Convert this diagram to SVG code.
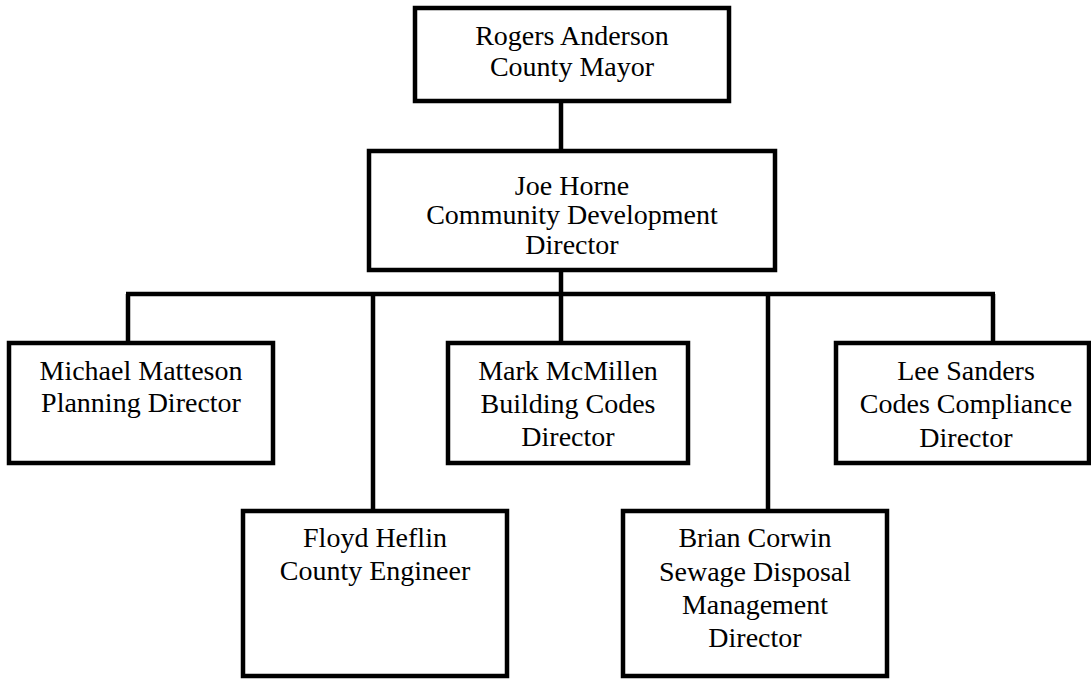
<svg xmlns="http://www.w3.org/2000/svg" width="1091" height="679" viewBox="0 0 1091 679">
<style>
.box{fill:#fff;stroke:#000;stroke-width:4.5}
.ln{stroke:#000;stroke-width:4.5;fill:none}
text{font-family:"Liberation Serif","Times New Roman",serif;font-size:28px;fill:#000;text-anchor:middle}
</style>
<rect width="1091" height="679" fill="#fff"/>
<g id="connectors">
<line class="ln" x1="561" y1="101" x2="561" y2="151"/>
<line class="ln" x1="561" y1="270" x2="561" y2="294"/>
<line class="ln" x1="126" y1="294" x2="995" y2="294"/>
<line class="ln" x1="128" y1="294" x2="128" y2="343"/>
<line class="ln" x1="373" y1="294" x2="373" y2="511"/>
<line class="ln" x1="561" y1="294" x2="561" y2="343"/>
<line class="ln" x1="768" y1="294" x2="768" y2="511"/>
<line class="ln" x1="993" y1="294" x2="993" y2="343"/>
</g>
<g id="mayor">
<rect class="box" x="415" y="8" width="314" height="93"/>
<text x="572" y="45">Rogers Anderson</text>
<text x="572" y="76">County Mayor</text>
</g>
<g id="director">
<rect class="box" x="369" y="151" width="406" height="119"/>
<text x="572" y="195">Joe Horne</text>
<text x="572" y="224">Community Development</text>
<text x="572" y="254">Director</text>
</g>
<g id="planning">
<rect class="box" x="9" y="343" width="264" height="120"/>
<text x="141" y="380">Michael Matteson</text>
<text x="141" y="412">Planning Director</text>
</g>
<g id="building">
<rect class="box" x="448" y="343" width="240" height="120"/>
<text x="568" y="380">Mark McMillen</text>
<text x="568" y="413">Building Codes</text>
<text x="568" y="446">Director</text>
</g>
<g id="compliance">
<rect class="box" x="836" y="343" width="253" height="120"/>
<text x="966" y="380">Lee Sanders</text>
<text x="966" y="413">Codes Compliance</text>
<text x="966" y="447">Director</text>
</g>
<g id="engineer">
<rect class="box" x="243" y="511" width="264" height="165"/>
<text x="375" y="547">Floyd Heflin</text>
<text x="375" y="580">County Engineer</text>
</g>
<g id="sewage">
<rect class="box" x="623" y="511" width="264" height="165"/>
<text x="755" y="547">Brian Corwin</text>
<text x="755" y="581">Sewage Disposal</text>
<text x="755" y="614">Management</text>
<text x="755" y="647">Director</text>
</g>
</svg>
